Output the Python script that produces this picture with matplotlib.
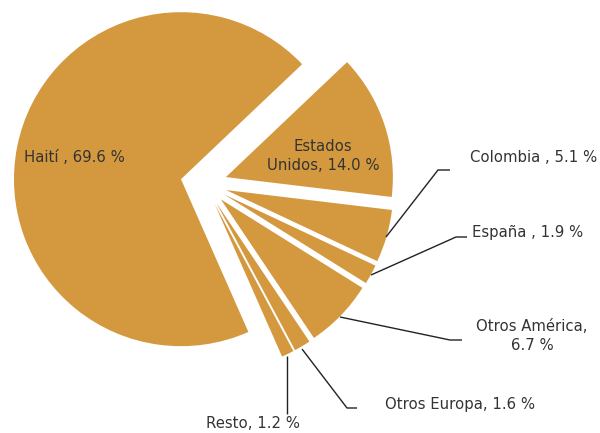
import matplotlib
matplotlib.use('Agg')
import matplotlib.pyplot as plt

plt.rcParams['font.family'] = ['DejaVu Sans']
plt.rcParams['font.size'] = 10.7

# ===================== 数据 =====================
paises = ['Estados Unidos', 'Colombia', 'España', 'Otros América',
          'Otros Europa', 'Resto', 'Haití']
porcentajes = [14.0, 5.1, 1.9, 6.7, 1.6, 1.2, 69.6]
# desplazamiento de cada porción (en pixeles, radio = 167)
separacion = [22, 22, 22, 22, 22, 22, 24.5]

COLOR = '#D4993F'
TEXTO = '#333333'
W, H = 600, 433


def px(x, y):
    """pixel de la imagen (y hacia abajo) -> coordenadas de datos"""
    return x, H - y


fig = plt.figure(figsize=(6.0, 4.33), dpi=100)
ax = fig.add_axes([0, 0, 1, 1])

ax.pie(porcentajes, explode=separacion, colors=[COLOR] * len(porcentajes),
       startangle=43.5, counterclock=False, radius=167,
       center=px(205, 184), frame=True,
       wedgeprops=dict(linewidth=0))

ax.set_xlim(0, W)
ax.set_ylim(0, H)
ax.set_aspect('equal')
ax.axis('off')

# etiquetas internas
ax.text(*px(24, 158), 'Haití , 69.6 %', ha='left', va='center', color=TEXTO)
ax.text(*px(323, 156), 'Estados\nUnidos, 14.0 %', ha='center', va='center',
        color=TEXTO, linespacing=1.3)

# etiquetas externas con líneas guía
guias = [
    ([(386, 237), (438, 170), (450, 170)], (470, 158), 'Colombia , 5.1 %', 'left'),
    ([(371, 275), (456, 237), (467, 237)], (472, 232), 'España , 1.9 %', 'left'),
    ([(340, 317), (450, 340), (462, 340)], (532, 336), 'Otros América,\n6.7 %', 'center'),
    ([(302, 349), (347, 408), (357, 408)], (385, 404), 'Otros Europa, 1.6 %', 'left'),
    ([(287, 356), (287, 414)], (206, 424), 'Resto, 1.2 %', 'left'),
]
for puntos, pos, texto, alin in guias:
    xs = [px(*p)[0] for p in puntos]
    ys = [px(*p)[1] for p in puntos]
    ax.plot(xs, ys, color='#222222', lw=1.0, solid_capstyle='butt')
    ax.text(*px(*pos), texto, ha=alin, va='center', color=TEXTO,
            linespacing=1.4)

fig.savefig('out.png', dpi=100)
